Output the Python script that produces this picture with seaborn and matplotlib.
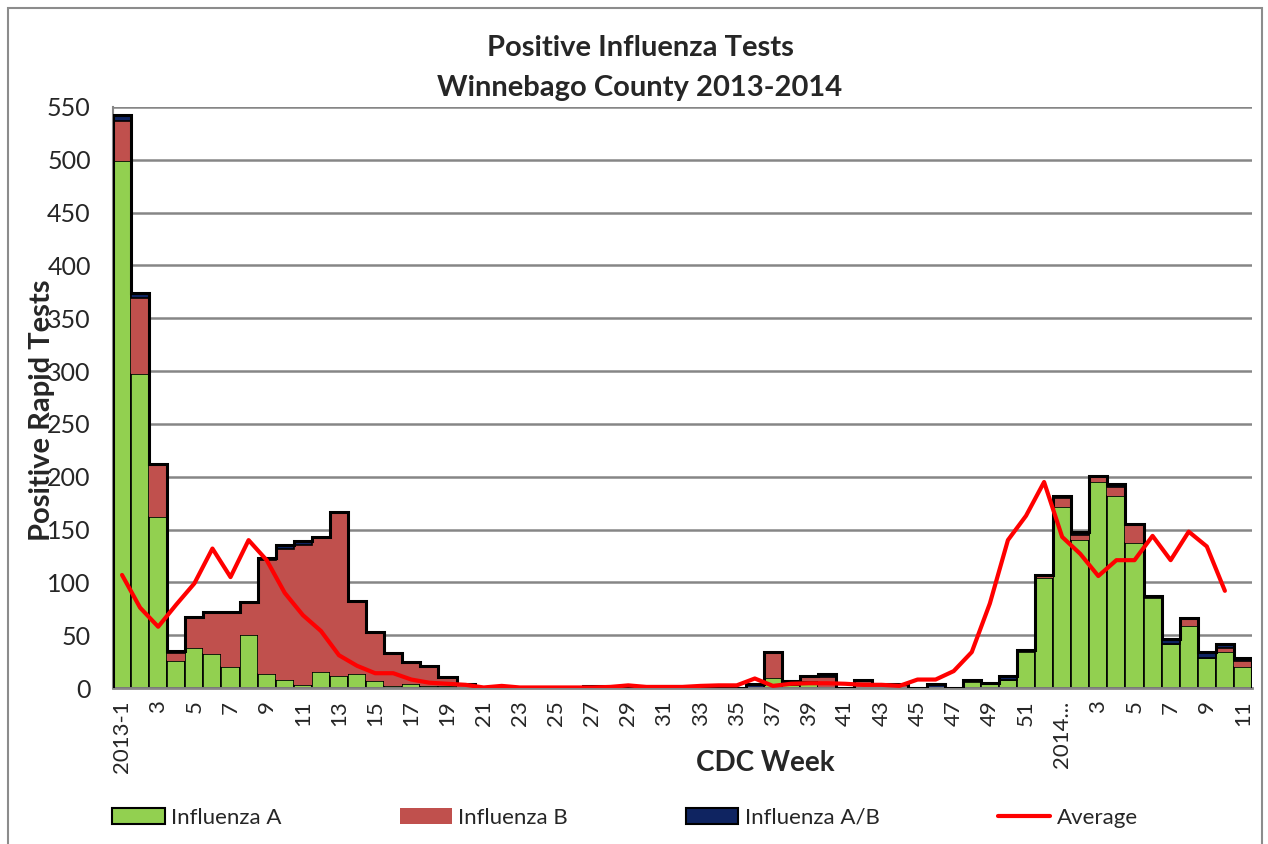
import numpy as np
import matplotlib
matplotlib.use("Agg")
import matplotlib.pyplot as plt
from matplotlib.patches import Patch, Rectangle
from matplotlib.lines import Line2D
import seaborn as sns

# x tick labels (every other CDC week, 2013 wk1 .. 2014 wk11)
tick_labels = ["2013-1", "3", "5", "7", "9", "11", "13", "15", "17", "19", "21",
               "23", "25", "27", "29", "31", "33", "35", "37", "39", "41", "43",
               "45", "47", "49", "51", "2014...", "3", "5", "7", "9", "11"]

# weekly positive rapid tests
flu_a = [499, 297, 162, 26, 38, 32, 20, 50, 13, 8,
         3, 15, 11, 13, 7, 2, 4, 2, 2, 0,
         0, 0, 0, 0, 0, 0, 0, 0, 0, 0,
         0, 0, 0, 0, 0, 0, 9, 3, 7, 1,
         0, 0, 0, 0, 0, 0, 0, 6, 4, 8,
         34, 104, 171, 140, 195, 182, 137, 85, 42, 59,
         28, 34, 20]
flu_b = [38, 72, 49, 7, 28, 39, 51, 30, 108, 124,
         132, 127, 155, 68, 45, 30, 20, 18, 7, 4,
         0, 0, 0, 0, 0, 0, 1, 1, 0, 1,
         1, 1, 0, 0, 0, 0, 25, 1, 4, 9,
         0, 7, 3, 4, 0, 0, 0, 2, 0, 0,
         2, 3, 9, 5, 6, 8, 18, 2, 0, 7,
         0, 4, 6]
flu_ab = [5, 5, 1, 2, 1, 1, 1, 1, 2, 3,
          4, 1, 1, 1, 1, 1, 1, 1, 1, 0,
          0, 0, 0, 0, 0, 0, 1, 1, 0, 1,
          1, 1, 0, 0, 0, 4, 0, 3, 0, 3,
          0, 1, 1, 0, 0, 4, 0, 0, 1, 3,
          0, 0, 2, 3, 0, 3, 0, 0, 4, 0,
          6, 4, 2]
average = [107, 76, 58, 79, 99, 132, 105, 140, 121, 90,
           69, 54, 31, 21, 14, 14, 8, 5, 4, 3,
           0.5, 2, 0.5, 0.5, 0.5, 0.5, 0.5, 1, 2.5, 1,
           1, 1, 2, 2.5, 2.5, 9, 2, 4, 4.5, 4.5,
           4, 3, 3, 2, 8, 8, 16, 34, 80, 140,
           163, 195, 143, 127, 106, 121, 121, 144, 121, 148,
           134, 92]

GREEN = "#92D050"
RED = "#C0504D"
NAVY = "#0F2461"
GRID = "#868686"

sns.set_style("white")
plt.rcParams["font.family"] = ["Lato", "DejaVu Sans"]

W, H = 1268, 844
fig = plt.figure(figsize=(W / 100, H / 100), dpi=100)
ax = fig.add_axes([113 / W, 1 - 688 / H, (1252 - 113) / W, (688 - 107) / H])

x = np.arange(len(flu_a))
a = np.array(flu_a, dtype=float)
b = np.array(flu_b, dtype=float)
ab = np.array(flu_ab, dtype=float)

ax.bar(x, a, width=1.0, color=GREEN, edgecolor="black", linewidth=1.2, zorder=2)
ax.bar(x, b, width=1.0, bottom=a, color=RED, edgecolor="none", zorder=2)
ax.bar(x, ab, width=1.0, bottom=a + b, color=NAVY, edgecolor="black",
       linewidth=1.2, zorder=2)
# black outline along the top of the stacks
ax.stairs(a + b + ab, np.arange(len(x) + 1) - 0.5, color="black",
          linewidth=2.2, zorder=3)
sns.lineplot(x=np.arange(len(average)), y=average, color="#FF0000",
             linewidth=3, ax=ax, zorder=4)

ax.set_xlim(-0.5, len(x) - 0.5)
ax.set_ylim(0, 550)
ax.set_yticks(range(0, 551, 50))
ax.yaxis.grid(True, color=GRID, linewidth=1.8, zorder=0)
ax.set_axisbelow(True)
for s in ["top", "right"]:
    ax.spines[s].set_visible(False)
ax.spines["left"].set_color(GRID)
ax.spines["left"].set_linewidth(1.5)
ax.spines["bottom"].set_color(GRID)
ax.spines["bottom"].set_linewidth(2)
ax.tick_params(axis="y", length=10, width=1.5, color=GRID, labelsize=18, pad=6)

ax.set_xticks(np.arange(len(x) + 1) - 0.5)
ax.set_xticklabels([])
ax.set_xticks(x[::2], minor=True)
ax.set_xticklabels(tick_labels, minor=True, rotation=90)
ax.tick_params(axis="x", which="major", length=8, width=1.5, color=GRID)
ax.tick_params(axis="x", which="minor", length=0, labelsize=16, pad=9)
ax.set_xlabel("")
ax.set_ylabel("")

fig.text(640 / W, 1 - 48 / H, "Positive Influenza Tests", ha="center",
         va="center", fontsize=21, fontweight="bold")
fig.text(640 / W, 1 - 88 / H, "Winnebago County 2013-2014", ha="center",
         va="center", fontsize=21, fontweight="bold")
fig.text(42 / W, 1 - 410 / H, "Positive Rapid Tests", rotation=90, ha="center",
         va="center", fontsize=21, fontweight="bold")
fig.text(765 / W, 1 - 763 / H, "CDC Week", ha="center", va="center",
         fontsize=20, fontweight="bold")

handles = [Patch(facecolor=GREEN, edgecolor="black", linewidth=1.5),
           Patch(facecolor=RED, edgecolor="none"),
           Patch(facecolor=NAVY, edgecolor="black", linewidth=1.5),
           Line2D([], [], color="#FF0000", linewidth=3)]
fig.legend(handles, ["Influenza A", "Influenza B", "Influenza A/B", "Average"],
           loc="center", bbox_to_anchor=(625 / W, 1 - 818 / H), ncol=4,
           frameon=False, fontsize=16, handlelength=2.35, handletextpad=0.3,
           columnspacing=5.3)

fig.patches.append(Rectangle((8 / W, -0.1), (1262 - 8) / W, 1.1 - 8 / H,
                             transform=fig.transFigure, fill=False,
                             edgecolor="#8c8c8c", linewidth=1.5))

fig.savefig("out.png", dpi=100)
